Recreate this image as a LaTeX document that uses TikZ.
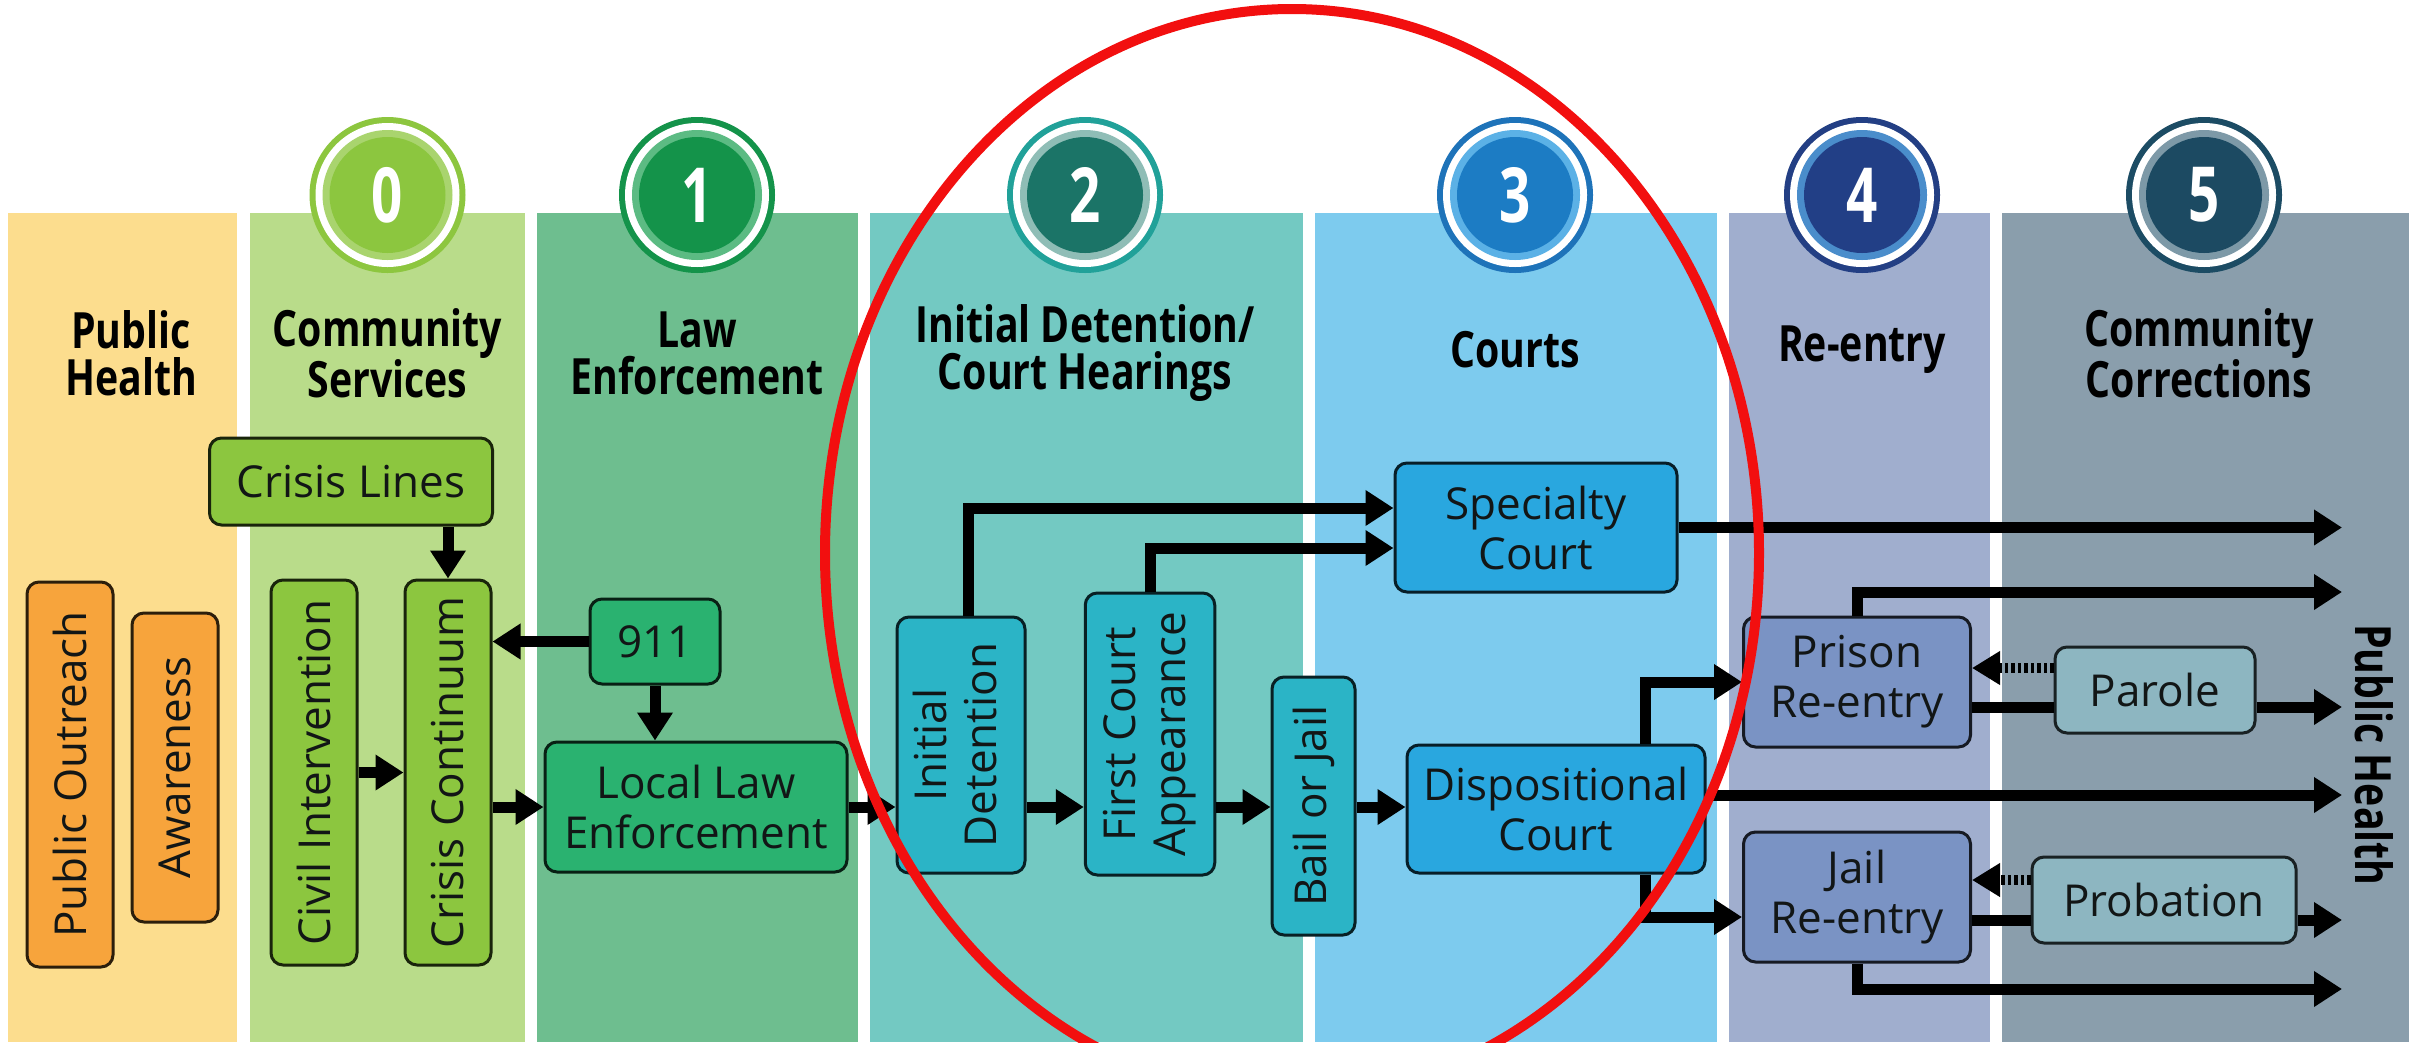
\documentclass[tikz,border=0pt]{standalone}
\usepackage{fontspec}
\setmainfont{Open Sans}
\newfontfamily\hfont[FakeStretch=0.785]{Open Sans}
\newfontfamily\dfont[FakeStretch=0.72]{Open Sans}
\usetikzlibrary{arrows.meta,calc}
\definecolor{colPH}{HTML}{FCDD8E}
\definecolor{colCS}{HTML}{B9DC8A}
\definecolor{colLE}{HTML}{6EBE8F}
\definecolor{colID}{HTML}{73C9C2}
\definecolor{colCT}{HTML}{7DCBEE}
\definecolor{colRE}{HTML}{A0AECE}
\definecolor{colCC}{HTML}{8A9EAC}
\definecolor{bxOr}{HTML}{F7A43C}
\definecolor{bxLime}{HTML}{8CC63F}
\definecolor{bxGr}{HTML}{2AB270}
\definecolor{bxTeal}{HTML}{2BB4C6}
\definecolor{bxBlue}{HTML}{29A7DF}
\definecolor{bxRe}{HTML}{7A93C4}
\definecolor{bxPar}{HTML}{8DB6C1}
\definecolor{txt}{HTML}{121616}
\definecolor{redring}{HTML}{F20F0F}
\definecolor{cOa}{HTML}{8DC63F}\definecolor{cOb}{HTML}{A9D46E}\definecolor{cOc}{HTML}{8CC63F}
\definecolor{cIa}{HTML}{14934A}\definecolor{cIb}{HTML}{5CBB83}\definecolor{cIc}{HTML}{14934A}
\definecolor{cIIa}{HTML}{21A199}\definecolor{cIIb}{HTML}{8FBDB6}\definecolor{cIIc}{HTML}{1B7467}
\definecolor{cIIIa}{HTML}{1E73B9}\definecolor{cIIIb}{HTML}{5BB1E6}\definecolor{cIIIc}{HTML}{1C7CC4}
\definecolor{cIVa}{HTML}{233F84}\definecolor{cIVb}{HTML}{4A8DCB}\definecolor{cIVc}{HTML}{223F86}
\definecolor{cVa}{HTML}{1C4C64}\definecolor{cVb}{HTML}{7D99A7}\definecolor{cVc}{HTML}{1C4A62}
\newcommand\stagedisc[6]{%
  \node[circle,fill=#3,minimum size=156pt,inner sep=0pt] (#1) at (#2,195) {};
  \fill[white] (#1.center) circle (72pt);
  \fill[#4] (#1.center) circle (65pt);
  \fill[#5] (#1.center) circle (58pt);
  \node[text=white,font=\dfont\bfseries\fontsize{76}{76}\selectfont] at (#1.center) {#6};
}
\begin{document}
\begin{tikzpicture}[x=1pt,y=-1pt,
  box/.style={rounded corners=12pt,line width=3pt,inner sep=0pt,align=center,
    text=txt,font=\fontsize{44}{50}\selectfont},
  obox/.style={box,fill=bxOr,draw=bxOr!18!black},
  lbox/.style={box,fill=bxLime,draw=bxLime!18!black},
  gbox/.style={box,fill=bxGr,draw=bxGr!18!black},
  tbox/.style={box,fill=bxTeal,draw=bxTeal!18!black},
  bbox/.style={box,fill=bxBlue,draw=bxBlue!18!black},
  rbox/.style={box,fill=bxRe,draw=bxRe!18!black},
  pbox/.style={box,fill=bxPar,draw=bxPar!18!black},
  hdr/.style={align=center,text=black,font=\hfont\bfseries\fontsize{50}{47}\selectfont},
  ln/.style={line width=11pt,black},
  arr/.style={ln,-{Triangle[length=28pt,width=34pt]}},
  dotarr/.style={line width=10pt,black,dash pattern=on 3.5pt off 3pt,-{Triangle[length=28pt,width=32pt]}}]
\useasboundingbox (0,0) rectangle (2409,1042);
\fill[white] (0,0) rectangle (2409,1042);
% columns
\fill[colPH] (8,213) rectangle (237,1042);
\fill[colCS] (250,213) rectangle (525,1042);
\fill[colLE] (537,213) rectangle (858,1042);
\fill[colID] (870,213) rectangle (1303,1042);
\fill[colCT] (1315,213) rectangle (1717,1042);
\fill[colRE] (1729,213) rectangle (1990,1042);
\fill[colCC] (2002,213) rectangle (2409,1042);
% stage discs
\stagedisc{s0}{387.5}{cOa}{cOb}{cOc}{0}
\stagedisc{s1}{697}{cIa}{cIb}{cIc}{1}
\stagedisc{s2}{1085}{cIIa}{cIIb}{cIIc}{2}
\stagedisc{s3}{1515}{cIIIa}{cIIIb}{cIIIc}{3}
\stagedisc{s4}{1862}{cIVa}{cIVb}{cIVc}{4}
\stagedisc{s5}{2204}{cVa}{cVb}{cVc}{5}
% headers
\node[hdr] (hPH) at (131,353.5) {Public\\Health};
\node[hdr] (hCS) at (387.5,353.5) {Community\\Services};
\node[hdr] (hLE) at (697,353.5) {Law\\Enforcement};
\node[hdr] (hID) at (1085,353.5) {Initial Detention/\\Court Hearings};
\node[hdr] (hCT) at (1515,350) {Courts};
\node[hdr] (hRE) at (1862,350) {Re-entry};
\node[hdr] (hCC) at (2199,353.5) {Community\\Corrections};
\node[hdr] (hPHr) at (2374,755) {\rotatebox{-90}{Public Health}};
% boxes
\node[obox,minimum width=86pt,minimum height=385pt] (pout) at (70,774.5) {\rotatebox{90}{Public Outreach}};
\node[obox,minimum width=86pt,minimum height=309pt] (aware) at (175,767.5) {\rotatebox{90}{Awareness}};
\node[lbox,minimum width=86pt,minimum height=385pt] (civ) at (314,772.5) {\rotatebox{90}{Civil Intervention}};
\node[lbox,minimum width=86pt,minimum height=385pt] (ccont) at (448,772.5) {\rotatebox{90}{Crisis Continuum}};
\node[lbox,minimum width=283pt,minimum height=87pt] (clines) at (351,481.5) {Crisis Lines};
\node[gbox,minimum width=130pt,minimum height=85pt] (n911) at (655,641.5) {911};
\node[gbox,minimum width=302pt,minimum height=130pt] (llaw) at (696,807) {Local Law\\Enforcement};
\node[tbox,minimum width=128pt,minimum height=256pt] (idet) at (961,745) {\rotatebox{90}{\begin{tabular}{@{}c@{}}Initial\\Detention\end{tabular}}};
\node[tbox,minimum width=129.5pt,minimum height=282pt] (fca) at (1150,734) {\rotatebox{90}{\begin{tabular}{@{}c@{}}First Court\\Appearance\end{tabular}}};
\node[tbox,minimum width=83pt,minimum height=258pt] (bj) at (1313.5,806) {\rotatebox{90}{Bail or Jail}};
\node[bbox,minimum width=282pt,minimum height=129pt] (spec) at (1536,527.5) {Specialty\\Court};
\node[bbox,minimum width=298pt,minimum height=128pt] (dc) at (1556,809) {Dispositional\\Court};
\node[rbox,minimum width=227pt,minimum height=130pt] (pre) at (1857,682) {Prison\\Re-entry};
\node[rbox,minimum width=227pt,minimum height=130pt] (jre) at (1857,897) {Jail\\Re-entry};
\node[pbox,minimum width=200pt,minimum height=86pt] (par) at (2155,690) {Parole};
\node[pbox,minimum width=264pt,minimum height=86pt] (prob) at (2164,900) {Probation};
% free ends
\coordinate (flow) at (0,807);
\coordinate (e1) at (2342,527.5);
\coordinate (e2) at (2342,592);
\coordinate (e3) at (2342,707);
\coordinate (e4) at (2342,795);
\coordinate (e5) at (2342,920);
\coordinate (e6) at (2342,989);
% connectors
\draw[arr] (ccont.north |- clines.south) -- (ccont.north);
\draw[arr] (n911.west) -- (n911.west -| ccont.east);
\draw[arr] (n911.south) -- (n911.south |- llaw.north);
\draw[arr] (civ.east) -- (ccont.west);
\draw[arr] (ccont.east |- llaw.west) -- (llaw.west);
\draw[arr] (llaw.east) -- (llaw.east -| idet.west);
\draw[arr] ($(idet.north)+(7,0)$) |- ($(spec.west)+(0,-19.5)$);
\draw[arr] (fca.north) |- ($(spec.west)+(0,20.5)$);
\draw[arr] (idet.east |- flow) -- (fca.west |- flow);
\draw[arr] (fca.east |- flow) -- (bj.west |- flow);
\draw[arr] (bj.east |- flow) -- (dc.west |- flow);
\draw[arr] (spec.east) -- (e1);
\draw[arr] ($(dc.north)+(89,0)$) |- (pre.west);
\draw[arr] ($(dc.south)+(89,0)$) |- ($(jre.west)+(0,20)$);
\draw[arr] (dc.east |- e4) -- (e4);
\draw[arr] (pre.north) |- (e2);
\draw[dotarr] ($(par.west)+(0,-22)$) coordinate (p1) -- (p1 -| pre.east);
\draw[ln] (e3 -| pre.east) -- (e3 -| par.west);
\draw[arr] (e3 -| par.east) -- (e3);
\draw[dotarr] ($(prob.west)+(0,-20)$) coordinate (p2) -- (p2 -| jre.east);
\draw[ln] (e5 -| jre.east) -- (e5 -| prob.west);
\draw[arr] (e5 -| prob.east) -- (e5);
\draw[arr] (jre.south) |- (e6);
% red ring
\begin{scope}
\clip (0,0) rectangle (2409,1042);
\draw[redring,line width=10pt] (1292,553) ellipse [x radius=467pt,y radius=544pt];
\end{scope}
\end{tikzpicture}
\end{document}
